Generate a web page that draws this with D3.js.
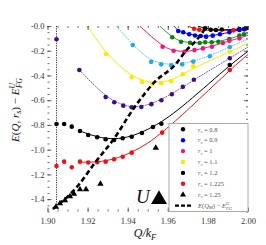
<!DOCTYPE html>
<html><head><meta charset="utf-8">
<script src="https://cdn.jsdelivr.net/npm/d3@7"></script>
<style>body{margin:0;background:#fff}svg{display:block}text{font-family:"Liberation Serif","DejaVu Serif",serif}</style>
</head><body><svg id="c" width="266" height="245"></svg>
<script>
// ---------- DATA ----------
const xTicks = [1.90, 1.92, 1.94, 1.96, 1.98, 2.00];
const xTickLabels = ["1.90", "1.92", "1.94", "1.96", "1.98", "2.00"];
const yTicks = [0, -0.2, -0.4, -0.6, -0.8, -1.0, -1.2, -1.4];
const yTickLabels = ["-0.0", "-0.2", "-0.4", "-0.6", "-0.8", "-1.0", "-1.2", "-1.4"];
const vLineX = 1.9045;
const vLineY = [0, -1.463];

const redTopPts = [[1.9731,-0.022],[1.9757,-0.030],[1.9927,-0.035],[1.9982,-0.027]];
const redTopFit = [[1.9700,0.0],[1.9731,-0.022],[1.9757,-0.030],[1.9850,-0.040],[1.9927,-0.035],[1.9982,-0.027],[2.0,-0.024]];
const blackTopPts = [[1.9786,-0.019],[1.9814,-0.030],[1.9840,-0.032],[1.9869,-0.028],[1.9957,-0.025],[1.9990,-0.018]];
const blackTopFit = [[1.9750,0.0],[1.9786,-0.019],[1.9840,-0.032],[1.9900,-0.030],[1.9957,-0.025],[2.0,-0.016]];
const bluePts = [[1.9652,-0.040],[1.9677,-0.051],[1.9707,-0.067],[1.9736,-0.077],[1.9764,-0.081],[1.9791,-0.086],[1.9824,-0.078],[1.9860,-0.067],[1.9907,-0.051],[1.9957,-0.032],[1.9980,-0.024]];
const blueFit = [[1.9630,0.0],[1.9652,-0.040],[1.9707,-0.067],[1.9764,-0.081],[1.9800,-0.084],[1.9860,-0.067],[1.9907,-0.051],[1.9957,-0.032],[2.0,-0.020]];
const greenPts = [[1.9622,-0.091],[1.9666,-0.127],[1.9711,-0.135],[1.9759,-0.137],[1.9786,-0.132],[1.9819,-0.132],[1.9852,-0.127],[1.9907,-0.105],[1.9957,-0.078],[1.9980,-0.067]];
const greenFit = [[1.9560,0.0],[1.9622,-0.091],[1.9666,-0.127],[1.9730,-0.137],[1.9800,-0.133],[1.9852,-0.125],[1.9907,-0.105],[1.9957,-0.078],[2.0,-0.058]];
const magentaPts = [[1.9574,-0.168],[1.9629,-0.200],[1.9683,-0.208],[1.9733,-0.195],[1.9775,-0.181],[1.9820,-0.168],[1.9875,-0.138],[1.9907,-0.120],[1.9957,-0.100]];
const magentaFit = [[1.9460,0.0],[1.9574,-0.168],[1.9629,-0.200],[1.9683,-0.208],[1.9733,-0.197],[1.9820,-0.165],[1.9907,-0.120],[1.9957,-0.098],[2.0,-0.075]];
const cyanPts = [[1.9425,-0.154],[1.9517,-0.290],[1.9567,-0.310],[1.9617,-0.318],[1.9672,-0.310],[1.9727,-0.288],[1.9810,-0.245],[1.9909,-0.170]];
const cyanFit = [[1.9345,0.0],[1.9425,-0.154],[1.9517,-0.290],[1.9617,-0.318],[1.9727,-0.288],[1.9810,-0.240],[1.9909,-0.170],[2.0,-0.105]];
const yellowPts = [[1.9292,-0.226],[1.9420,-0.415],[1.9472,-0.452],[1.9522,-0.466],[1.9567,-0.463],[1.9617,-0.447],[1.9675,-0.390],[1.9727,-0.325],[1.9909,-0.208]];
const yellowFit = [[1.9199,0.0],[1.9292,-0.226],[1.9420,-0.415],[1.9522,-0.466],[1.9617,-0.447],[1.9727,-0.340],[1.9909,-0.208],[2.0,-0.140]];
const purplePts = [[1.9045,-0.107],[1.9159,-0.356],[1.9290,-0.575],[1.9333,-0.617],[1.9378,-0.644],[1.9420,-0.657],[1.9468,-0.655],[1.9518,-0.632],[1.9568,-0.600],[1.9620,-0.552],[1.9675,-0.492],[1.9730,-0.435],[1.9909,-0.261]];
const purpleFit = [[1.9159,-0.356],[1.9290,-0.575],[1.9378,-0.644],[1.9440,-0.660],[1.9518,-0.632],[1.9620,-0.552],[1.9730,-0.435],[1.9909,-0.261],[2.0,-0.170]];
const blackPts = [[1.9045,-0.792],[1.9083,-0.792],[1.9121,-0.814],[1.9162,-0.849],[1.9203,-0.881],[1.9248,-0.900],[1.9290,-0.916],[1.9332,-0.922],[1.9375,-0.908],[1.9420,-0.895],[1.9471,-0.865],[1.9526,-0.817],[1.9568,-0.790],[1.9909,-0.315]];
const blackFit = [[1.9162,-0.849],[1.9248,-0.900],[1.9332,-0.918],[1.9420,-0.895],[1.9526,-0.820],[1.9650,-0.690],[1.9909,-0.315],[2.0,-0.205]];
const redPts = [[1.9045,-1.132],[1.9083,-1.097],[1.9121,-1.142],[1.9162,-1.097],[1.9203,-1.104],[1.9248,-1.102],[1.9290,-1.097],[1.9332,-1.078],[1.9375,-1.057],[1.9420,-1.024],[1.9572,-0.862],[1.9909,-0.356]];
const redFit = [[1.9162,-1.100],[1.9248,-1.102],[1.9332,-1.078],[1.9420,-1.024],[1.9500,-0.950],[1.9572,-0.862],[1.9700,-0.680],[1.9909,-0.356],[2.0,-0.230]];
const triPts = [[1.9042,-1.463],[1.9062,-1.435],[1.9087,-1.411],[1.9112,-1.378],[1.9132,-1.358],[1.9162,-1.322],[1.9192,-1.322],[1.9264,-1.277],[1.9540,-0.986]];
const minLine = [[1.9027,-1.479],[1.9154,-1.288],[1.9237,-1.105],[1.9327,-0.922],[1.9436,-0.652],[1.9536,-0.450],[1.9636,-0.315],[1.9694,-0.194],[1.9744,-0.113],[1.9795,0.0]];

const legendLabels = ["0.8", "0.9", "1", "1.1", "1.2", "1.225", "1.25"];
const legendColors = ["#000000", "#0000ee", "#f0147f", "#f7ea00", "#000000", "#ee1111", "#000000"];

// ---------- DRAW ----------
const L = 47.5, R = 248, T = 26, B = 211.5;
const x = d3.scaleLinear().domain([1.90, 2.00]).range([L, R]);
const y = d3.scaleLinear().domain([-1.5, 0]).range([B, T]);
const svg = d3.select("#c");
const axisCol = "#444";

svg.append("defs").append("clipPath").attr("id", "clip")
  .append("rect").attr("x", L).attr("y", T).attr("width", R - L).attr("height", B - T);

const plot = svg.append("g").attr("clip-path", "url(#clip)");

const series = [
  {pts: redTopPts, fit: redTopFit, col: "#ee1111", lc: "#ee1111", dash: null},
  {pts: blackTopPts, fit: blackTopFit, col: "#000", lc: "#000", dash: null},
  {pts: bluePts, fit: blueFit, col: "#0000ee", lc: "#0000ee", dash: null},
  {pts: greenPts, fit: greenFit, col: "#0a850a", lc: "#3a9a3a", dash: null},
  {pts: magentaPts, fit: magentaFit, col: "#f0147f", lc: "#f0147f", dash: null},
  {pts: cyanPts, fit: cyanFit, col: "#1eaaea", lc: "#4cc0f0", dash: "1.5,1"},
  {pts: yellowPts, fit: yellowFit, col: "#f7ea00", lc: "#f7ea00", dash: null},
  {pts: purplePts, fit: purpleFit, col: "#3d0f8c", lc: "#7a5cc0", dash: "2,0.8"},
  {pts: blackPts, fit: blackFit, col: "#000", lc: "#000", dash: null},
  {pts: redPts, fit: redFit, col: "#ee1111", lc: "#ee1111", dash: null}
];

const line = d3.line().x(d => x(d[0])).y(d => y(d[1])).curve(d3.curveBasis);

// vertical dotted line
plot.append("line")
  .attr("x1", x(vLineX)).attr("x2", x(vLineX))
  .attr("y1", y(vLineY[0])).attr("y2", y(vLineY[1]))
  .attr("stroke", "#000").attr("stroke-width", 0.8).attr("stroke-dasharray", "1.2,1.2");

series.forEach(s => {
  plot.append("path").attr("d", line(s.fit)).attr("fill", "none")
    .attr("stroke", s.lc).attr("stroke-width", 1)
    .attr("stroke-dasharray", s.dash);
});
series.forEach(s => {
  plot.selectAll(null).data(s.pts).enter().append("circle")
    .attr("cx", d => x(d[0])).attr("cy", d => y(d[1])).attr("r", 2.3)
    .attr("fill", s.col);
});
const tri = d3.symbol().type(d3.symbolTriangle);
plot.selectAll(null).data(triPts).enter().append("path")
  .attr("d", tri.size(18)())
  .attr("transform", d => `translate(${x(d[0])},${y(d[1])})`)
  .attr("fill", "#000");

plot.append("path").attr("d", d3.line().x(d => x(d[0])).y(d => y(d[1])).curve(d3.curveMonotoneX)(minLine))
  .attr("fill", "none").attr("stroke", "#000").attr("stroke-width", 2.6)
  .attr("stroke-dasharray", "5,3");

// axes
function styleAxis(g) {
  g.select(".domain").remove();
  g.selectAll(".tick line").attr("stroke", axisCol).attr("stroke-width", 0.8);
  g.selectAll("text").attr("fill", "#333").style("font-size", "8.5px");
}
const xMinor = d3.range(1.90, 2.0001, 0.005);
const yMinor = d3.range(-1.5, 0.0001, 0.05);
svg.append("g").attr("transform", `translate(0,${B})`)
  .call(d3.axisBottom(x).tickValues(xMinor).tickFormat("").tickSizeInner(-2).tickSizeOuter(0)).call(styleAxis);
svg.append("g").attr("transform", `translate(0,${T})`)
  .call(d3.axisTop(x).tickValues(xMinor).tickFormat("").tickSizeInner(-2).tickSizeOuter(0)).call(styleAxis);
svg.append("g").attr("transform", `translate(${L},0)`)
  .call(d3.axisLeft(y).tickValues(yMinor).tickFormat("").tickSizeInner(-2).tickSizeOuter(0)).call(styleAxis);
svg.append("g").attr("transform", `translate(${R},0)`)
  .call(d3.axisRight(y).tickValues(yMinor).tickFormat("").tickSizeInner(-2).tickSizeOuter(0)).call(styleAxis);

svg.append("g").attr("transform", `translate(0,${B})`)
  .call(d3.axisBottom(x).tickValues(xTicks).tickFormat((d, i) => xTickLabels[i]).tickSizeInner(-4).tickSizeOuter(0).tickPadding(6.5)).call(styleAxis);
svg.append("g").attr("transform", `translate(0,${T})`)
  .call(d3.axisTop(x).tickValues(xTicks).tickFormat("").tickSizeInner(-4).tickSizeOuter(0)).call(styleAxis);
svg.append("g").attr("transform", `translate(${L},0)`)
  .call(d3.axisLeft(y).tickValues(yTicks).tickFormat((d, i) => yTickLabels[i]).tickSizeInner(-4).tickSizeOuter(0).tickPadding(3)).call(styleAxis);
svg.append("g").attr("transform", `translate(${R},0)`)
  .call(d3.axisRight(y).tickValues(yTicks).tickFormat("").tickSizeInner(-4).tickSizeOuter(0)).call(styleAxis);

// legend
const lgX = 169, lgY = 123.5, lgStep = 10.9;
svg.append("rect").attr("x", lgX).attr("y", lgY).attr("width", R - lgX).attr("height", B - lgY)
  .attr("fill", "#fff").attr("stroke", "#aaa").attr("stroke-width", 1);
legendLabels.forEach((lab, i) => {
  const cy = lgY + 5.8 + i * lgStep;
  if (i === 6) {
    svg.append("path").attr("d", tri.size(16)()).attr("transform", `translate(183,${cy})`).attr("fill", "#000");
  } else {
    svg.append("circle").attr("cx", 183).attr("cy", cy).attr("r", 2.2).attr("fill", legendColors[i]);
  }
  const t = svg.append("text").attr("x", 198).attr("y", cy + 2.2).attr("fill", "#555").style("font-size", "6.5px");
  t.append("tspan").attr("font-style", "italic").text("r");
  t.append("tspan").attr("font-style", "italic").attr("dy", 1.3).style("font-size", "4.8px").text("s");
  t.append("tspan").attr("dy", -1.3).text(" = " + lab);
});
{
  const cy = lgY + 5.8 + 7 * lgStep;
  svg.append("line").attr("x1", 175).attr("x2", 192).attr("y1", cy).attr("y2", cy)
    .attr("stroke", "#000").attr("stroke-width", 2.2).attr("stroke-dasharray", "4,2");
  const t = svg.append("text").attr("x", 198).attr("y", cy + 2.2).attr("fill", "#555").style("font-size", "6.5px");
  t.append("tspan").attr("font-style", "italic").text("E");
  t.append("tspan").text("(");
  t.append("tspan").attr("font-style", "italic").text("Q");
  t.append("tspan").attr("font-style", "italic").attr("dy", 1.3).style("font-size", "4.8px").text("M");
  t.append("tspan").attr("dy", -1.3).text(") − ");
  t.append("tspan").attr("font-style", "italic").text("E");
  t.append("tspan").attr("font-style", "italic").attr("dy", -2.5).style("font-size", "4.5px").text("U");
  t.append("tspan").attr("font-style", "italic").attr("dx", -3.2).attr("dy", 4.3).style("font-size", "4.5px").text("FG");
}

// U label
svg.append("text").attr("x", 136).attr("y", 203).attr("font-style", "italic").style("font-size", "19px").attr("fill", "#111").text("U");
svg.append("path").attr("d", d3.symbolTriangle.draw ? tri.size(110)() : "").attr("transform", "translate(159,199.5)").attr("fill", "#000");

// axis labels
{
  const t = svg.append("text").attr("x", 145).attr("y", 237).attr("text-anchor", "middle")
    .attr("font-style", "italic").style("font-size", "12px").attr("fill", "#111");
  t.append("tspan").text("Q/k");
  t.append("tspan").attr("dy", 2.5).style("font-size", "8.5px").text("F");
}
{
  const t = svg.append("text").attr("transform", "translate(19,110) rotate(-90)").attr("text-anchor", "middle")
    .style("font-size", "11px").attr("fill", "#111");
  t.append("tspan").attr("font-style", "italic").text("E");
  t.append("tspan").text("(");
  t.append("tspan").attr("font-style", "italic").text("Q, r");
  t.append("tspan").attr("font-style", "italic").attr("dy", 2.2).style("font-size", "8px").text("s");
  t.append("tspan").attr("dy", -2.2).text(") − ");
  t.append("tspan").attr("font-style", "italic").text("E");
  t.append("tspan").attr("font-style", "italic").attr("dy", -4).style("font-size", "7.5px").text("U");
  t.append("tspan").attr("font-style", "italic").attr("dx", -5).attr("dy", 7).style("font-size", "7.5px").text("FG");
}
</script></body></html>
